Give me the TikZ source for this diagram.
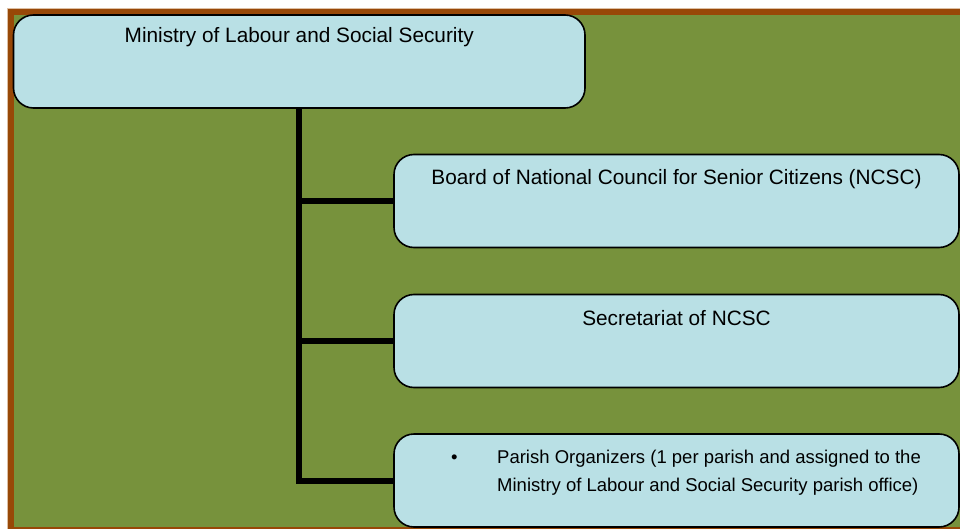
\documentclass[tikz,border=0pt]{standalone}
\usepackage{fontspec}
\setmainfont{Liberation Sans}
\definecolor{panelgreen}{HTML}{77923C}
\definecolor{framebrown}{HTML}{984807}
\definecolor{frametan}{HTML}{DDBFA3}
\definecolor{boxfill}{HTML}{B9E0E5}
\begin{document}
\begin{tikzpicture}[x=1pt,y=-1pt,
  orgbox/.style={draw=black, line width=1.6pt, fill=boxfill,
    rounded corners=20pt, inner sep=0pt},
  wideorg/.style={orgbox, minimum width=565pt, minimum height=93pt},
  boxtitle/.style={anchor=base, inner sep=0pt,
    font=\fontsize{20.8}{25}\selectfont},
  boxlist/.style={anchor=base west, inner sep=0pt, align=left,
    font=\fontsize{18.5}{28}\selectfont},
  conn/.style={draw=black, line width=6pt}]
\useasboundingbox (0,0) rectangle (960,529);
% frame and panel
\begin{scope}
  \clip (0,0) rectangle (960,529);
  \fill[frametan] (7.3,7.8) rectangle (980,545);
  \fill[framebrown] (8.3,8.8) rectangle (980,545);
  \fill[panelgreen] (13.5,15) rectangle (980,527);
\end{scope}
% org chart boxes
\node[orgbox, minimum width=571.5pt, minimum height=93pt] (b1) at (299.25,61.5) {};
\node[wideorg] (b2) at (676.5,201) {};
\node[wideorg] (b3) at (676.5,341) {};
\node[wideorg] (b4) at (676.5,480.5) {};
% connectors
\draw[conn] (b1.south) |- (b4.west);
\draw[conn] (b1.south |- b2.west) -- (b2.west);
\draw[conn] (b1.south |- b3.west) -- (b3.west);
% box texts
\node[boxtitle] (t1) at ([yshift=-28pt]b1.north) {Ministry of Labour and Social Security};
\node[boxtitle] (t2) at ([yshift=-31pt]b2.north) {Board of National Council for Senior Citizens (NCSC)};
\node[boxtitle] (t3) at ([yshift=-32pt]b3.north) {Secretariat of NCSC};
% two-line bullet entry; its base anchor sits on the second line
\node[boxlist] (t4) at (451,491)
  {\makebox[46pt][l]{•}Parish Organizers (1 per parish and assigned to the\\
   \hspace*{46pt}Ministry of Labour and Social Security parish office)};
\end{tikzpicture}
\end{document}
